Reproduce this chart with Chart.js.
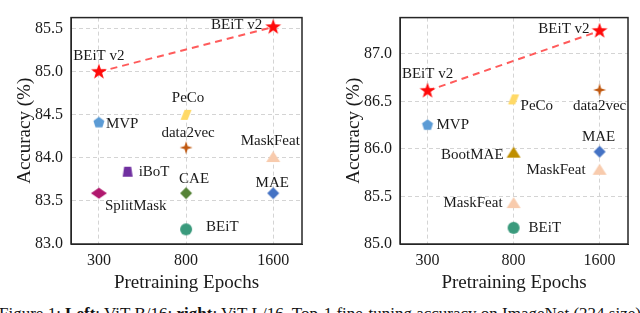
<!DOCTYPE html>
<html>
<head>
<meta charset="utf-8">
<script src="https://cdn.jsdelivr.net/npm/chart.js@4.4.0/dist/chart.umd.min.js"></script>
<style>
body { margin: 0; background: #fff; width: 640px; height: 313px; overflow: hidden; position: relative; font-family: 'Liberation Serif', serif; }
.box { position: absolute; top: 0; width: 320px; height: 295px; }
#caption { position: absolute; left: -1px; top: 305px; font-size: 17px; line-height: 17px; white-space: nowrap; color: #111; }
</style>
</head>
<body>
<div class="box" style="left:0"><canvas id="chartB" width="320" height="295"></canvas></div>
<div class="box" style="left:320px"><canvas id="chartL" width="320" height="295"></canvas></div>
<div id="caption">Figure 1: <b>Left</b>: ViT-B/16; <b>right</b>: ViT-L/16. Top-1 fine-tuning accuracy on ImageNet (224 size)</div>
<script>
// shared epoch axis (position 0,1,2 on the axis)
const epochTicks = ['300', '800', '1600']

// left: ViT-B/16 (first two = BEiT v2 line)
const b_names = ['BEiT v2', 'BEiT v2', 'MVP', 'PeCo', 'data2vec', 'MaskFeat', 'iBoT', 'CAE', 'SplitMask', 'MAE', 'BEiT']
const b_epoch = [0, 2, 0, 1, 1, 2, 0.33, 1, 0, 2, 1]
const b_acc = [85.0, 85.52, 84.41, 84.5, 84.12, 84.01, 83.84, 83.59, 83.59, 83.59, 83.17]
const b_yticks = [83.0, 83.5, 84.0, 84.5, 85.0, 85.5]

// right: ViT-L/16
const l_names = ['BEiT v2', 'BEiT v2', 'PeCo', 'data2vec', 'MVP', 'MAE', 'BootMAE', 'MaskFeat', 'MaskFeat', 'BEiT']
const l_epoch = [0, 2, 1, 2, 0, 2, 1, 2, 1, 1]
const l_acc = [86.61, 87.24, 86.52, 86.62, 86.25, 85.97, 85.96, 85.78, 85.43, 85.17]
const l_yticks = [85.0, 85.5, 86.0, 86.5, 87.0]

// marker styles per method
const styles = {
    'BEiT v2': ['star', '#ff0a0a'],
    'MVP': ['pentagon', '#5b9bd5'],
    'PeCo': ['para', '#ffd966'],
    'data2vec': ['star4', '#c0580f'],
    'MaskFeat': ['triangle', '#f8cbad'],
    'iBoT': ['trapezoid', '#7030a0'],
    'CAE': ['diamond', '#548235'],
    'SplitMask': ['wideDiamond', '#b0186e'],
    'MAE': ['diamond', '#4472c4'],
    'BEiT': ['circle', '#3a9a7c'],
    'BootMAE': ['triangle', '#bf8f00']
}

// label offsets [dx, dy, align]
const b_lab = [[0, -16, 'center'], [-11, -2, 'right'], [7, 1, 'left'], [2, -17, 'center'], [2, -15, 'center'], [-3, -16, 'center'],
    [11, 0, 'left'], [8, -14, 'center'], [6, 13, 'left'], [-1, -10, 'center'], [20, -2, 'left']]
const l_lab = [[0, -17, 'center'], [-10, -2, 'right'], [7, 7, 'left'], [0, 16, 'center'], [9, 0, 'left'], [-1, -15, 'center'],
    [-10, 2, 'right'], [-14, 0, 'right'], [-11, 0, 'right'], [15, 0, 'left']]

function marker(kind, color) {
    const c = document.createElement('canvas')
    c.width = 20
    c.height = 20
    const g = c.getContext('2d')
    g.translate(10, 10)
    g.fillStyle = color
    g.beginPath()
    if (kind == 'star') {
        for (let i = 0; i < 10; i++) {
            const r = i % 2 ? 3.3 : 8.3
            const a = -Math.PI / 2 + i * Math.PI / 5
            g.lineTo(r * Math.cos(a), r * Math.sin(a))
        }
    } else if (kind == 'star4') {
        for (let i = 0; i < 8; i++) {
            const r = i % 2 ? 2.2 : 6.5
            const a = -Math.PI / 2 + i * Math.PI / 4
            g.lineTo(r * Math.cos(a), r * Math.sin(a))
        }
    } else if (kind == 'pentagon') {
        for (let i = 0; i < 5; i++) {
            const a = -Math.PI / 2 + i * 2 * Math.PI / 5
            g.lineTo(5.8 * Math.cos(a), 5.8 * Math.sin(a))
        }
    } else if (kind == 'para') {
        g.moveTo(-1.5, -5); g.lineTo(5.5, -5); g.lineTo(1.5, 5); g.lineTo(-5.5, 5)
    } else if (kind == 'triangle') {
        g.moveTo(0, -6); g.lineTo(7, 5); g.lineTo(-7, 5)
    } else if (kind == 'trapezoid') {
        g.moveTo(-3.5, -5); g.lineTo(3.5, -5); g.lineTo(5, 5); g.lineTo(-5, 5)
    } else if (kind == 'diamond') {
        g.moveTo(0, -6); g.lineTo(6, 0); g.lineTo(0, 6); g.lineTo(-6, 0)
    } else if (kind == 'wideDiamond') {
        g.moveTo(0, -5.5); g.lineTo(8, 0); g.lineTo(0, 5.5); g.lineTo(-8, 0)
    } else {
        g.arc(0, 0, 6, 0, Math.PI * 2)
    }
    g.closePath()
    g.fill()
    return c
}

const frame = {
    id: 'frame',
    afterDatasetsDraw(chart) {
        const a = chart.chartArea
        const ctx = chart.ctx
        ctx.save()
        ctx.strokeStyle = '#262626'
        ctx.lineWidth = 1.5
        ctx.strokeRect(a.left, a.top, a.right - a.left, a.bottom - a.top)
        ctx.restore()
    }
}

const labels = {
    id: 'labels',
    afterDatasetsDraw(chart, args, opts) {
        const ctx = chart.ctx
        ctx.save()
        ctx.font = '15px "Liberation Serif"'
        ctx.fillStyle = '#1a1a1a'
        ctx.textBaseline = 'middle'
        chart.data.datasets.forEach((ds, di) => {
            const meta = chart.getDatasetMeta(di)
            ds.names.forEach((n, i) => {
                const p = meta.data[i]
                const o = ds.lab[i]
                ctx.textAlign = o[2]
                ctx.fillText(n, p.x + o[0], p.y + o[1])
            })
        })
        ctx.restore()
    }
}

function makeChart(id, names, epoch, acc, lab, yticks, ymax, yw, rpad, tpad, titlePad) {
    const pts = epoch.map((e, i) => ({ x: e, y: acc[i] }))
    const pstyle = names.map(n => marker(styles[n][0], styles[n][1]))
    const ctx = document.getElementById(id).getContext('2d')
    return new Chart(ctx, {
        type: 'scatter',
        data: {
            datasets: [
                {
                    data: pts.slice(0, 2),
                    names: names.slice(0, 2),
                    lab: lab.slice(0, 2),
                    showLine: true,
                    borderColor: '#ff5b5b',
                    borderWidth: 2,
                    borderDash: [7, 5],
                    pointStyle: pstyle.slice(0, 2),
                    pointRadius: 8
                },
                {
                    data: pts.slice(2),
                    names: names.slice(2),
                    lab: lab.slice(2),
                    pointStyle: pstyle.slice(2),
                    pointRadius: 8
                }
            ]
        },
        options: {
            responsive: false,
            animation: false,
            layout: { padding: { left: 0, right: rpad, top: tpad, bottom: 0 } },
            plugins: { legend: { display: false }, tooltip: { enabled: false } },
            scales: {
                x: {
                    type: 'linear',
                    min: -0.32,
                    max: 2.33,
                    afterBuildTicks: s => { s.ticks = epochTicks.map((t, i) => ({ value: i })) },
                    afterFit: s => { s.height = 51 },
                    ticks: { callback: v => epochTicks[v], font: { family: 'Liberation Serif', size: 16 }, color: '#1a1a1a', padding: 7, maxRotation: 0 },
                    grid: { color: '#d4d4d4', lineWidth: 1, drawTicks: false },
                    border: { dash: [4, 3], color: '#262626' },
                    title: { display: true, text: 'Pretraining Epochs', color: '#1a1a1a', font: { family: 'Liberation Serif', size: 19 }, padding: { bottom: 1 } }
                },
                y: {
                    min: yticks[0],
                    max: ymax,
                    afterBuildTicks: s => { s.ticks = yticks.map(v => ({ value: v })) },
                    afterFit: s => { s.width = yw },
                    ticks: { callback: v => v.toFixed(1), font: { family: 'Liberation Serif', size: 16 }, color: '#1a1a1a', padding: 8 },
                    grid: { color: '#d4d4d4', lineWidth: 1, drawTicks: false },
                    border: { dash: [4, 3], color: '#262626' },
                    title: { display: true, text: 'Accuracy (%)', color: '#1a1a1a', font: { family: 'Liberation Serif', size: 19 }, padding: { top: titlePad } }
                }
            }
        },
        plugins: [frame, labels]
    })
}

makeChart('chartB', b_names, b_epoch, b_acc, b_lab, b_yticks, 85.63, 71, 18, 2, 14)
makeChart('chartL', l_names, l_epoch, l_acc, l_lab, l_yticks, 87.38, 80, 12, 5, 23)
</script>
</body>
</html>
